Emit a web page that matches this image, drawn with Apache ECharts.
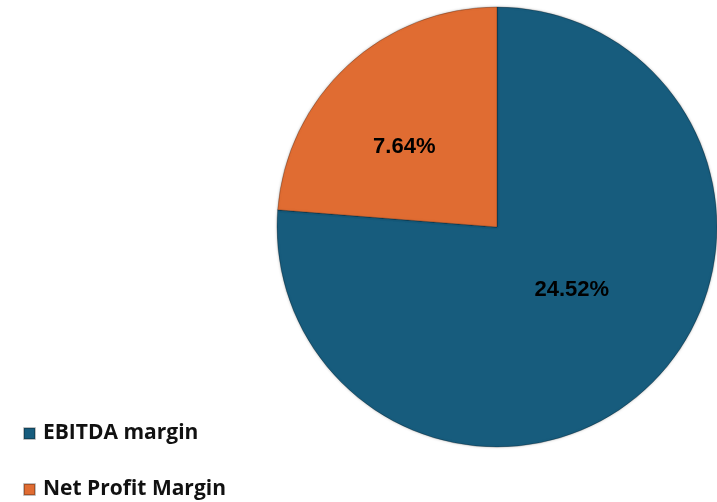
<!DOCTYPE html>
<html>
<head>
<meta charset="utf-8">
<script src="https://cdn.jsdelivr.net/npm/echarts@6/dist/echarts.min.js"></script>
<style>
  html, body { margin: 0; padding: 0; background: #fff; }
  #chart { width: 717px; height: 502px; }
</style>
</head>
<body>
<div id="chart"></div>
<script>
// 数据
const names = ["EBITDA margin", "Net Profit Margin"];
const values = [24.52, 7.64];
const colors = ["#175C7D", "#E06C32"];
const labelOffsets = [[-2, -20], [-16, 3]];
const legendTops = [418, 474];

const myChart = echarts.init(document.getElementById("chart"));

// 图例 (每项一个, 纵向排列)
const legends = names.map((n, i) => ({
  left: 18,
  top: legendTops[i],
  itemWidth: 11,
  itemHeight: 11,
  itemGap: 8,
  icon: "rect",
  data: [n],
  textStyle: {
    fontFamily: "Open Sans",
    fontWeight: "bold",
    fontSize: 21,
    color: "#111",
    padding: [0, 0, 0, 3],
  },
}));

const option = {
  animation: false,
  legend: legends,
  series: [
    {
      type: "pie",
      center: [497, 227],
      radius: [0, 220],
      startAngle: 90,
      clockwise: true,
      itemStyle: {
        borderColor: "rgba(0,0,0,0.25)",
        borderWidth: 1,
        shadowColor: "rgba(0,0,0,0.25)",
        shadowBlur: 3,
      },
      label: {
        show: true,
        position: "inside",
        formatter: (p) => p.value.toFixed(2) + "%",
        fontFamily: "Liberation Sans",
        fontWeight: "bold",
        fontSize: 22,
        color: "#000",
      },
      labelLine: { show: false },
      emphasis: { disabled: true },
      data: names.map((n, i) => ({
        name: n,
        value: values[i],
        itemStyle: { color: colors[i] },
        label: { offset: labelOffsets[i] },
      })),
    },
  ],
};

myChart.setOption(option);
</script>
</body>
</html>
